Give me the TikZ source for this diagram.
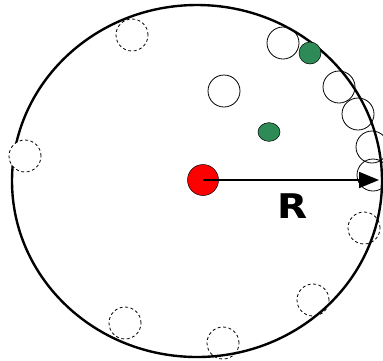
\documentclass[tikz,border=0pt]{standalone}
\usepackage{fontspec}
\setmainfont{Liberation Sans}
\newfontfamily\heavyfont{DejaVu Sans}
\usetikzlibrary{arrows.meta}
\definecolor{dotgreen}{RGB}{46,139,87}
\tikzset{
  ball/.style={draw=black, line width=0.8pt, circle, minimum size=32pt, inner sep=0pt},
  ghost/.style={draw=black, line width=0.8pt, dash pattern=on 3pt off 2.5pt, circle, minimum size=32pt, inner sep=0pt},
  greendot/.style={draw=black, line width=0.5pt, fill=dotgreen, circle, inner sep=0pt, minimum size=22pt},
}
\begin{document}
\begin{tikzpicture}[x=1pt,y=-1pt]
\useasboundingbox (0,0) rectangle (383,360);
\begin{scope}
\clip (0,0) rectangle (383,360);
% solid (unfilled) circles
\node[ball] (s1) at (283,43) {};
\node[ball] (s2) at (224,91) {};
\node[ball] (s3) at (339,87) {};
\node[ball] (s4) at (358,114) {};
\node[ball] (s5) at (372,147) {};
\node[ball] (s6) at (373,175) {};
% dashed circles
\node[ghost] (d1) at (132,35) {};
\node[ghost] (d3) at (364,228) {};
\node[ghost] (d4) at (313,300) {};
\node[ghost] (d5) at (125,323) {};
\node[ghost] (d6) at (223,343) {};
% big circle
\draw[line width=2.4pt] (197,181) ellipse [x radius=185, y radius=176];
\node[ghost, fill=white] (d2) at (25,156) {};
% green dots
\node[greendot] (g1) at (310,53) {};
\node[greendot, yscale=0.85] (g2) at (269,132) {};
% red centre
\node[draw=black, line width=0.5pt, fill=red, circle, inner sep=0pt, minimum size=31pt] (c) at (203,180) {};
\coordinate (edge) at (379,180);
\draw[line width=1.8pt, -{Triangle[length=20pt,width=16pt]}] (c.center) -- (edge);
\node[font=\heavyfont\bfseries\fontsize{34}{34}\selectfont, xscale=1.15, inner sep=0pt] (R) at (293,206) {R};
\end{scope}
\end{tikzpicture}
\end{document}
